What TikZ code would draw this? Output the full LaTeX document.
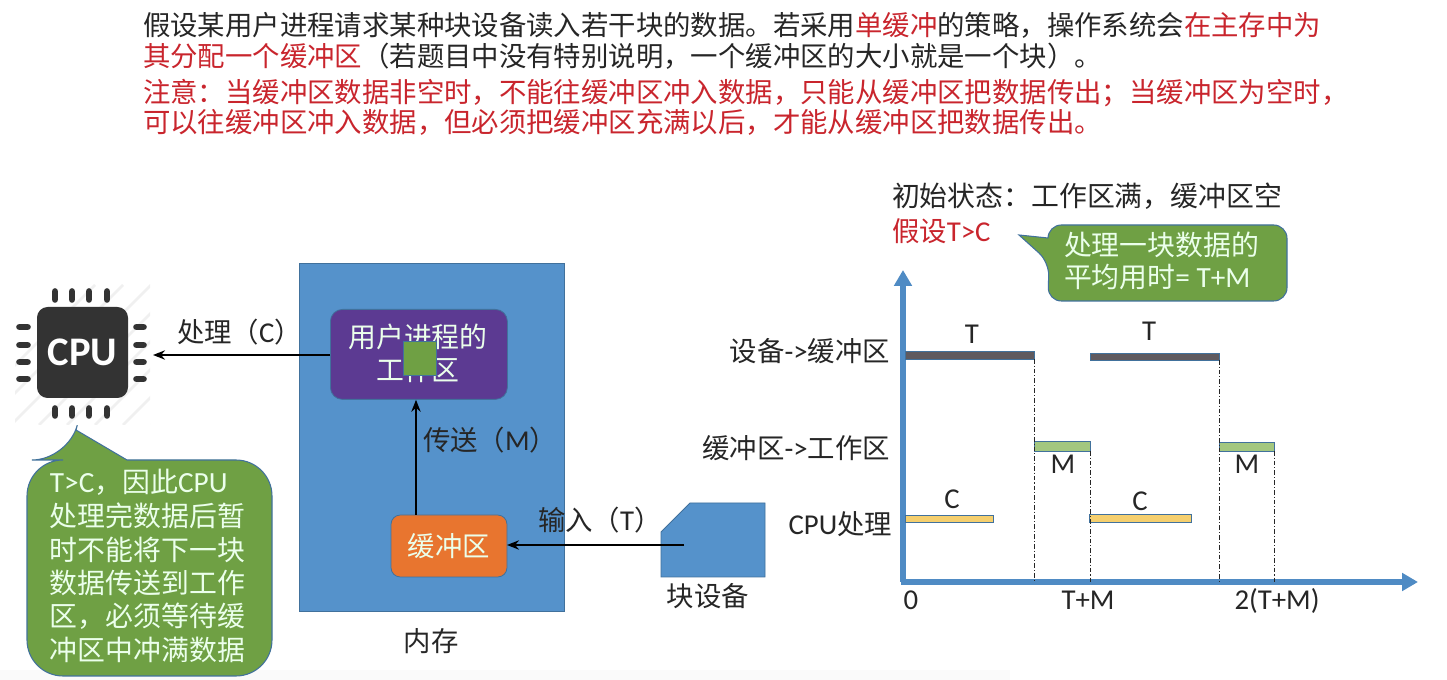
\documentclass[tikz,border=0pt]{standalone}
\usepackage{fontspec}
\setmainfont{Carlito}[Scale=1.05]
\newfontfamily\zhf{Noto Sans CJK SC}
\newcommand{\zh}[1]{{\zhf #1}}
\newcommand{\zcomma}{\char"FF0C\relax}
\newcommand{\zcolon}{\char"FF1A\relax}
\newcommand{\zsemi}{\char"FF1B\relax}
\newcommand{\zlp}{\char"FF08\relax}
\newcommand{\zrp}{\char"FF09\relax}
\usetikzlibrary{arrows.meta}
\definecolor{memblue}{HTML}{5592CB}
\definecolor{edgeblue}{HTML}{41719C}
\definecolor{purp}{HTML}{5C3A92}
\definecolor{leaf}{HTML}{6FA044}
\definecolor{orangebox}{HTML}{E8752F}
\definecolor{redtxt}{HTML}{C9252D}
\definecolor{chipdark}{HTML}{333333}
\definecolor{axisblue}{HTML}{4F8BC4}
\definecolor{inktxt}{HTML}{262626}
\definecolor{bardark}{HTML}{5F5A5F}
\definecolor{bargreen}{HTML}{A3C77F}
\definecolor{baryellow}{HTML}{F5CF6E}
\newcommand{\barnode}[6]{\node[barbox,#6,anchor=north west,minimum width={(#4-#2)*0.75pt},minimum height={(#5-#3)*0.75pt}] (#1) at (#2,#3) {};}
\tikzset{
  x=0.75pt,y=-0.75pt,
  txt/.style={inner sep=0pt,outer sep=0pt,text=inktxt,font=\fontsize{20.55}{25}\selectfont},
  wide/.style={font=\fontsize{20.9}{25}\selectfont},
  redt/.style={txt,text=redtxt},
  wht/.style={txt,text=white!92!green},
  barbox/.style={draw=edgeblue,line width=0.6pt,inner sep=0pt,outer sep=0pt},
  flow/.style={draw=black,line width=1.3pt,-{Stealth[length=9pt,width=7pt]}},
  dd/.style={draw=black!85,line width=0.6pt,dash pattern=on 3.5pt off 1.5pt on 0.8pt off 1.5pt},
  axisl/.style={draw=axisblue,line width=4pt,-{Triangle[length=12pt,width=13pt]}},
  pin/.style={draw=chipdark,line width=5pt,line cap=round},
  callout/.style={fill=leaf,draw=edgeblue,line width=0.8pt},
}
\begin{document}
\begin{tikzpicture}
\useasboundingbox (0,0) rectangle (1447,680);
\fill[white] (0,0) rectangle (1447,680);
\fill[black!2] (0,670) rectangle (1010,680);

% top text
\node[txt,anchor=base west] (l1) at (143,36) {\zh{假设某用户进程请求某种块设备读入若干块的数据。若采用\textcolor{redtxt}{单缓冲}的策略\zcomma 操作系统会\textcolor{redtxt}{在主存中为}}};
\node[txt,anchor=base west] (l2) at (143,67) {\zh{\textcolor{redtxt}{其分配一个缓冲区}\zlp 若题目中没有特别说明\zcomma 一个缓冲区的大小就是一个块\zrp 。}};
\node[redt,anchor=base west] (l3) at (143,103) {\zh{注意\zcolon 当缓冲区数据非空时\zcomma 不能往缓冲区冲入数据\zcomma 只能从缓冲区把数据传出\zsemi 当缓冲区为空时\zcomma}};
\node[redt,anchor=base west] (l4) at (143,133) {\zh{可以往缓冲区冲入数据\zcomma 但必须把缓冲区充满以后\zcomma 才能从缓冲区把数据传出。}};

% CPU
\begin{scope}
\clip (15,285) rectangle (150,425);
\foreach \d in {0,28,...,250}
  \draw[black!6,line width=2pt] (15+\d-60,425) -- (155+\d-60,285);
\end{scope}
\foreach \px in {55,72,89,107} {
  \draw[pin] (\px,291.5) -- (\px,299.5);
  \draw[pin] (\px,408.5) -- (\px,415.5);
}
\foreach \py in {327,345,362,379} {
  \draw[pin] (19.5,\py) -- (27.5,\py);
  \draw[pin] (136.5,\py) -- (143.5,\py);
}
\node[draw=none,fill=chipdark,rounded corners=8pt,minimum width=68.25pt,minimum height=68.25pt,inner sep=0pt,text=white,font=\fontsize{29}{32}\selectfont\bfseries] (cpu) at (82.5,352.5) {CPU};
\coordinate (cpuend) at (153,355);

% memory
\node[fill=memblue,draw=edgeblue,line width=0.8pt,anchor=north west,minimum width=198.75pt,minimum height=261pt,inner sep=0pt] (mem) at (299,263) {};
\node[txt,anchor=base] (memlab) at (431,652) {\zh{内存}};
\node[fill=purp,draw=edgeblue,line width=0.6pt,rounded corners=9pt,anchor=north west,minimum width=132.75pt,minimum height=67.5pt,inner sep=0pt] (user) at (330,309) {};
\node[wht,wide,anchor=base] (user1) at (418,348) {\zh{用户进程的}};
\node[wht,wide,anchor=base] (user2) at (418,381) {\zh{工作区}};
\node[fill=leaf,draw=edgeblue,line width=0.6pt,anchor=north west,minimum width=24.75pt,minimum height=25.5pt,inner sep=0pt] (block) at (403,341) {};
\node[fill=orangebox,draw=edgeblue,line width=0.6pt,rounded corners=7pt,anchor=north west,minimum width=87pt,minimum height=46.5pt,inner sep=0pt,wht] (buf) at (391,515) {\zh{缓冲区}};
\coordinate (bufup) at (416,515);
\draw[flow] (bufup) -- (bufup |- user.south);
\node[txt,anchor=base west] (sendlab) at (423,451) {\zh{传送\zlp}M\zh{\zrp}};
\draw[flow] (user.west |- cpuend) -- (cpuend);
\node[txt,anchor=base west] (proclab) at (177,343) {\zh{处理\zlp}C\zh{\zrp}};

% block device
\draw[fill=memblue,draw=edgeblue,line width=0.6pt] (661,577) -- (661,532) -- (690,503) -- (765,503) -- (765,577) -- cycle;
\coordinate (devout) at (684,545);
\draw[flow] (devout) -- (devout -| buf.east);
\node[txt,anchor=base west] (inlab) at (538,531) {\zh{输入\zlp}T\zh{\zrp}};
\node[txt,anchor=base] (devlab) at (708,607) {\zh{块设备}};

% left callout
\draw[callout] (68,460) -- (76,430) -- (127,460) [rounded corners=27pt] -- (272,460) -- (272,676) -- (27,676) -- (27,460) -- cycle;
\node[wht,wide,anchor=base west] (c1) at (50,493) {T>C\zh{\zcomma 因此}CPU};
\node[wht,wide,anchor=base west] (c2) at (50,527) {\zh{处理完数据后暂}};
\node[wht,wide,anchor=base west] (c3) at (50,561) {\zh{时不能将下一块}};
\node[wht,wide,anchor=base west] (c4) at (50,594) {\zh{数据传送到工作}};
\node[wht,wide,anchor=base west] (c5) at (50,627) {\zh{区\zcomma 必须等待缓}};
\node[wht,wide,anchor=base west] (c6) at (50,661) {\zh{冲区中冲满数据}};

% chart heading
\node[txt,wide,anchor=base west] (st) at (892,207) {\zh{初始状态\zcolon 工作区满\zcomma 缓冲区空}};
\node[redt,anchor=base west] (as) at (892,242) {\zh{假设}T>C};
\draw[callout] (1049,262) -- (1019,235) -- (1048,238) [rounded corners=10pt] -- (1048,225) -- (1287,225) -- (1287,301) -- (1048,301) -- cycle;
\node[wht,wide,anchor=base west] (av1) at (1064,256) {\zh{处理一块数据的}};
\node[wht,wide,anchor=base west] (av2) at (1064,288) {\zh{平均用时}= T+M};

% axes
\coordinate (o) at (903,582);
\coordinate (xend) at (1418,582);
\coordinate (yend) at (903,270);
\draw[axisl] (901,582) -- (xend);
\draw[axisl] (o) -- (yend);

% bars
\barnode{t1}{905}{351}{1034}{359}{fill=bardark}
\barnode{t2}{1090}{353}{1219}{360}{fill=bardark}
\barnode{m1}{1034}{441}{1090}{451}{fill=bargreen}
\barnode{m2}{1219}{442}{1274}{451}{fill=bargreen}
\barnode{cc1}{905}{515}{993}{522}{fill=baryellow}
\barnode{cc2}{1089}{514}{1191}{522}{fill=baryellow}

% guide lines
\draw[dd] (t1.south east) -- (t1.south east |- o);
\draw[dd] (m1.south east) -- (m1.south east |- o);
\draw[dd] (t2.south east) -- (t2.south east |- o);
\draw[dd] (m2.south east) -- (m2.south east |- o);

% chart labels
\node[txt,anchor=base east] (r1) at (890,362) {\zh{设备}->\zh{缓冲区}};
\node[txt,anchor=base east] (r2) at (890,459) {\zh{缓冲区}->\zh{工作区}};
\node[txt,anchor=base east] (r3) at (892,535) {CPU\zh{处理}};
\node[txt,anchor=base] (lt1) at (972,344) {T};
\node[txt,anchor=base] (lt2) at (1149,341) {T};
\node[txt,anchor=base] (lm1) at (1063,474) {M};
\node[txt,anchor=base] (lm2) at (1247,474) {M};
\node[txt,anchor=base] (lc1) at (952,509) {C};
\node[txt,anchor=base] (lc2) at (1140,511) {C};
\node[txt,anchor=base] (x0) at (911,610) {0};
\node[txt,anchor=base] (x1) at (1088,610) {T+M};
\node[txt,anchor=base] (x2) at (1277,610) {2(T+M)};
\end{tikzpicture}
\end{document}
